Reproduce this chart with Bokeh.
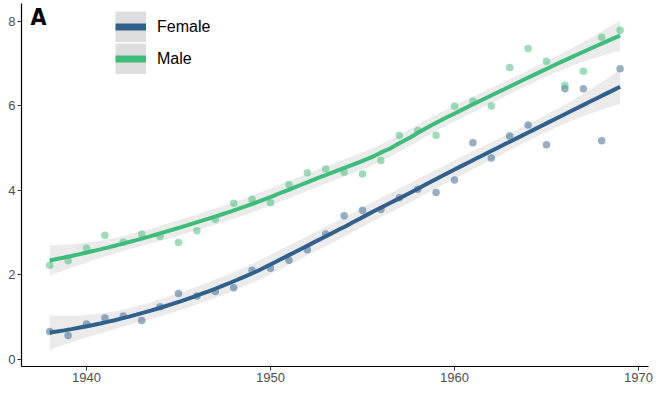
import numpy as np
from bokeh.plotting import figure
from bokeh.models import ColumnDataSource, Range1d, FixedTicker, Legend, LegendItem, Label
from bokeh.embed import file_html
from bokeh.resources import INLINE

# ---- data ----
years = list(range(1938, 1970))
female = [0.66, 0.57, 0.84, 0.98, 1.03, 0.92, 1.25, 1.56, 1.50, 1.61, 1.70, 2.11,
          2.16, 2.35, 2.60, 2.97, 3.40, 3.53, 3.55, 3.83, 4.03, 3.95, 4.25, 5.13,
          4.77, 5.29, 5.55, 5.08, 6.41, 6.41, 5.18, 6.88]
male = [2.23, 2.34, 2.63, 2.94, 2.78, 2.97, 2.91, 2.77, 3.05, 3.32, 3.70, 3.79,
        3.71, 4.14, 4.42, 4.51, 4.43, 4.39, 4.71, 5.30, 5.42, 5.31, 6.00, 6.11,
        6.00, 6.91, 7.36, 7.06, 6.49, 6.82, 7.63, 7.79]
series_names = ["Female", "Male"]
series_colors = ["#30608C", "#3DBC7A"]
x_ticks = [1940, 1950, 1960, 1970]
y_ticks = [0, 2, 4, 6, 8]
panel_tag = "A"


# ---- loess smoother (degree 2, span 0.75) with 95% band ----
def loess_matrix(x, xs, span=0.75):
    x = np.asarray(x, float)
    n = len(x)
    q = int(np.floor(n * span))
    L = np.zeros((len(xs), n))
    for i, x0 in enumerate(xs):
        d = np.abs(x - x0)
        h = np.sort(d)[q - 1]
        w = np.clip(1 - (d / h) ** 3, 0, None) ** 3
        X = np.vstack([np.ones(n), x - x0, (x - x0) ** 2]).T
        XtW = X.T * w
        L[i] = np.linalg.solve(XtW @ X, XtW)[0]
    return L


def smooth(x, y, n_out=80):
    x = np.asarray(x, float)
    y = np.asarray(y, float)
    xs = np.linspace(x.min(), x.max(), n_out)
    L = loess_matrix(x, xs)
    Ls = loess_matrix(x, x)
    fit = L @ y
    M = np.eye(len(x)) - Ls
    MM = M.T @ M
    d1 = np.trace(MM)
    d2 = np.trace(MM @ MM)
    sigma2 = np.sum((y - Ls @ y) ** 2) / d1
    se = np.sqrt(sigma2 * np.sum(L ** 2, axis=1))
    df = d1 ** 2 / d2
    z = 1.959964
    t = z + (z ** 3 + z) / (4 * df) + (5 * z ** 5 + 16 * z ** 3 + 3 * z) / (96 * df ** 2)
    return xs, fit, fit - t * se, fit + t * se


p = figure(width=658, height=396, output_backend="svg", toolbar_location=None,
           x_range=Range1d(1936.467, 1970.543), y_range=Range1d(-0.166, 8.426),
           min_border_left=21, min_border_right=10, min_border_top=3, min_border_bottom=30)
p.outline_line_color = None
p.xgrid.visible = False
p.ygrid.visible = False
p.background_fill_color = "white"
p.border_fill_color = "white"

smoothed = [smooth(years, vals) for vals in (female, male)]

for (xs, fit, lo, hi) in smoothed:
    src = ColumnDataSource(dict(x=xs, lo=lo, hi=hi))
    p.varea(x="x", y1="lo", y2="hi", source=src, fill_color="#999999", fill_alpha=0.2)
for vals, col in zip([female, male], series_colors):
    p.scatter(x=years, y=vals, size=7.5, fill_color=col, fill_alpha=0.5,
              line_color=None)

legend_items = []
for name, (xs, fit, lo, hi), col in zip(series_names, smoothed, series_colors):
    p.line(x=xs, y=fit, line_color=col, line_width=4)
    # legend key renderers (single NaN point, nothing drawn in the plot)
    bg = p.line(x=[np.nan], y=[np.nan], line_color="#DEDEDE", line_width=31, line_cap="butt")
    bar = p.line(x=[np.nan], y=[np.nan], line_color=col, line_width=7, line_cap="butt")
    legend_items.append(LegendItem(label=name, renderers=[bg, bar]))

legend = Legend(items=legend_items, location=(94, 292), orientation="vertical",
                glyph_width=31, glyph_height=31, label_height=31, spacing=1,
                padding=0, margin=0, label_standoff=11,
                label_text_font="Liberation Sans", label_text_font_size="16px",
                label_text_color="#000000",
                border_line_alpha=0, background_fill_alpha=0)
p.add_layout(legend, "center")

for ax in [p.xaxis[0], p.yaxis[0]]:
    ax.axis_line_color = "#000000"
    ax.axis_line_width = 1.2
    ax.major_tick_line_color = "#333333"
    ax.major_tick_out = 4
    ax.major_tick_in = 0
    ax.minor_tick_line_color = None
    ax.major_label_text_font = "Liberation Sans"
    ax.major_label_text_font_size = "13px"
    ax.major_label_text_color = "#4D4D4D"
    ax.major_label_standoff = 2
p.xaxis.ticker = FixedTicker(ticks=x_ticks)
p.yaxis.ticker = FixedTicker(ticks=y_ticks)

p.add_layout(Label(x=1936.96, y=8.426, text=panel_tag,
                   text_font="DejaVu Sans Condensed",
                   text_font_style="bold", text_font_size="23px", text_color="#000000",
                   text_baseline="top", text_align="left"))

open("out.html", "w").write(file_html(p, INLINE))
